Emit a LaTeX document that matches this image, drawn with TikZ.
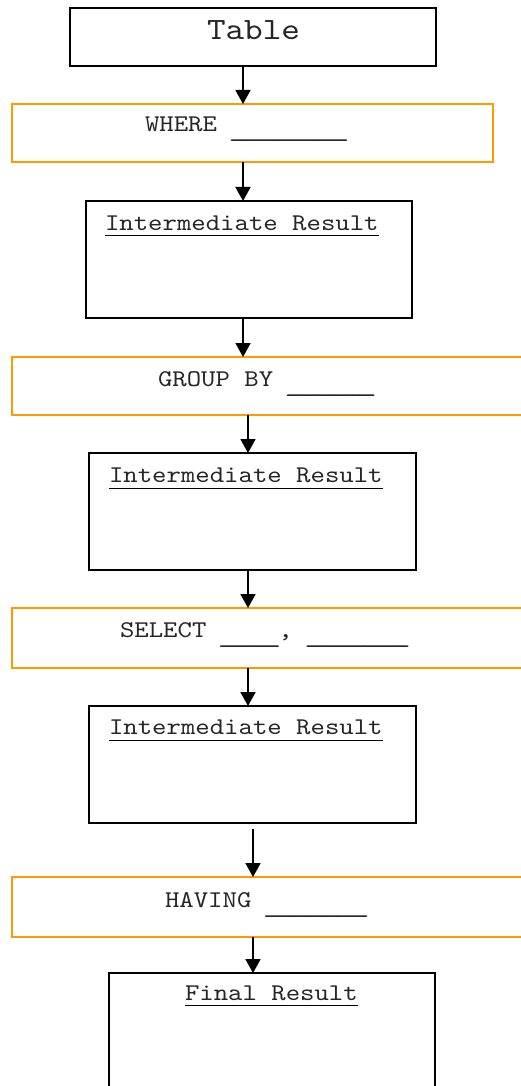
\documentclass[tikz,border=0pt]{standalone}
\usepackage{fontspec}
\usepackage{graphicx}
% typewriter face widened to the 0.6em advance of a Courier-style font
\setmonofont[FakeStretch=1.143]{lmmono10-regular.otf}
\usetikzlibrary{arrows.meta}
\definecolor{clauseorange}{HTML}{FF9A00}
% one blank of a fill-in line: an underscore stretched over its full cell
\newcommand\ublank{\makebox[0.6em][c]{\scalebox{1.4}[1]{\_}}}
% a run of blanks, set a little below the baseline
\newcommand\fillin[1]{\raisebox{-6pt}{#1}}
\begin{document}
\begin{tikzpicture}[x=1pt,y=-1pt,
  blk/.style={rectangle, draw=black, line width=1.8pt, inner sep=0pt, outer sep=0pt},
  clause/.style={rectangle, draw=clauseorange, line width=1.3pt, inner sep=0pt, outer sep=0pt},
  lbl/.style={anchor=base west, inner sep=0pt, outer sep=0pt, text=black!85,
              font=\ttfamily\fontsize{24}{28}\selectfont},
  biglbl/.style={lbl, font=\ttfamily\fontsize{31}{36}\selectfont},
  arr/.style={line width=1.8pt, -{Triangle[width=15pt,length=14pt]}},
  uline/.style={line width=1pt}]
\useasboundingbox (0,0) rectangle (520,1086);

% boxes of the pipeline
\node[blk, minimum width=366pt, minimum height=58pt] (tbl) at (253,37) {};
\node[clause, minimum width=481pt, minimum height=58pt] (where) at (252.5,133) {};
\node[blk, minimum width=326pt, minimum height=117pt] (ir1) at (249,259.5) {};
\node[clause, minimum width=520pt, minimum height=58pt] (grp) at (272,386) {};
\node[blk, minimum width=327pt, minimum height=117pt] (ir2) at (252.5,511.5) {};
\node[clause, minimum width=520pt, minimum height=60pt] (sel) at (272,638) {};
\node[blk, minimum width=327pt, minimum height=117pt] (ir3) at (252.5,764.5) {};
\node[clause, minimum width=520pt, minimum height=60pt] (hav) at (272,907) {};
\node[blk, minimum width=326pt, minimum height=127pt] (fin) at (272,1036.5) {};

% labels
\node[biglbl] (tblt) at (207,40) {Table};
\node[lbl] (wheret) at (145,132)
  {WHERE \fillin{\ublank\ublank\ublank\ublank\ublank\ublank\ublank\ublank}};
\node[lbl] (ir1t) at (105,230) {Intermediate Result};
\node[lbl] (grpt) at (158,386)
  {GROUP BY \fillin{\ublank\ublank\ublank\ublank\ublank\ublank}};
\node[lbl] (ir2t) at (109,482.5) {Intermediate Result};
\node[lbl] (selt) at (120,637)
  {SELECT \fillin{\ublank\ublank\ublank\ublank}, \fillin{\ublank\ublank\ublank\ublank\ublank\ublank\ublank}};
\node[lbl] (ir3t) at (109,734.5) {Intermediate Result};
\node[lbl] (havt) at (165,907)
  {HAVING \fillin{\ublank\ublank\ublank\ublank\ublank\ublank\ublank}};
\node[lbl] (fint) at (185,1000) {Final Result};

% underlines of the result headings
\foreach \t in {ir1t,ir2t,ir3t,fint}
  \draw[uline] ([yshift=-5.5pt]\t.base west) -- ([yshift=-5.5pt]\t.base east);

% columns of the connectors
\coordinate (c1) at (243,0);
\coordinate (c2) at (248,0);
\coordinate (c3) at (253,0);

% connectors
\draw[arr] (tbl.south -| c1) -- (where.north -| c1);
\draw[arr] (where.south -| c1) -- (ir1.north -| c1);
\draw[arr] (ir1.south -| c1) -- (grp.north -| c1);
\draw[arr] (grp.south -| c2) -- (ir2.north -| c2);
\draw[arr] (ir2.south -| c2) -- (sel.north -| c2);
\draw[arr] (sel.south -| c2) -- (ir3.north -| c2);
\draw[arr] ([yshift=-6pt]ir3.south -| c3) -- (hav.north -| c3);
\draw[arr] (hav.south -| c3) -- (fin.north -| c3);
\end{tikzpicture}
\end{document}
